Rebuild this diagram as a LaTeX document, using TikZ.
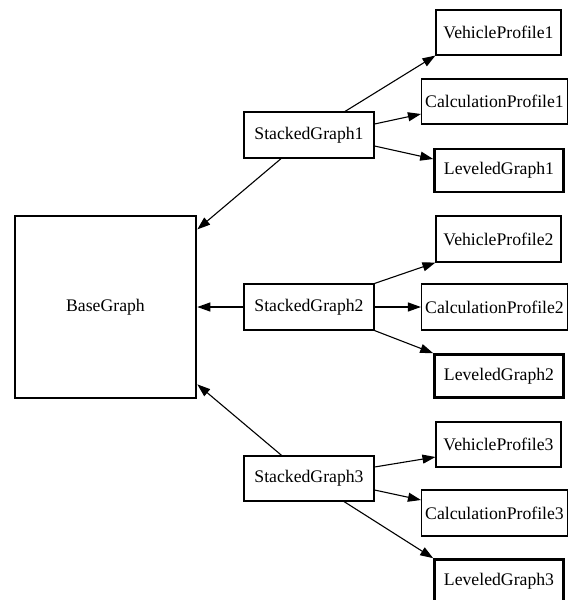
\documentclass[tikz,border=0pt]{standalone}
\usepackage{fontspec}
\setmainfont{Liberation Serif}
\usetikzlibrary{arrows.meta,calc}
\begin{document}
\begin{tikzpicture}[x=1pt,y=-1pt,
  box/.style={draw, line width=1.1pt, inner sep=0pt, font=\fontsize{17.7}{20}\selectfont},
  boldbox/.style={box, line width=2.6pt},
  arr/.style={line width=1.1pt, -{Triangle[length=13pt,width=9pt]}}]
\useasboundingbox (0,0) rectangle (568,600);

% root
\node[boldbox, minimum width=181pt, minimum height=182pt] (bg) at (105.5,307) {BaseGraph};

% stacked graphs
\node[box, minimum width=130pt, minimum height=46pt] (sg1) at (309,135) {StackedGraph1};
\node[box, minimum width=130pt, minimum height=46pt] (sg2) at (309,307) {StackedGraph2};
\node[box, minimum width=130pt, minimum height=45pt] (sg3) at (309,478.5) {StackedGraph3};

% profiles and leveled graphs
\node[box, minimum width=125pt, minimum height=45pt] (vp1) at (498.5,32.5) {VehicleProfile1};
\node[box, minimum width=146pt, minimum height=45pt] (cp1) at (494.5,101.5) {CalculationProfile1};
\node[boldbox, minimum width=129pt, minimum height=43pt] (lg1) at (499,170.5) {LeveledGraph1};

\node[box, minimum width=125pt, minimum height=46pt] (vp2) at (498.5,239) {VehicleProfile2};
\node[box, minimum width=146pt, minimum height=46pt] (cp2) at (494.5,307) {CalculationProfile2};
\node[boldbox, minimum width=129pt, minimum height=43pt] (lg2) at (499,376) {LeveledGraph2};

\node[box, minimum width=125pt, minimum height=45pt] (vp3) at (498.5,444.5) {VehicleProfile3};
\node[box, minimum width=146pt, minimum height=46pt] (cp3) at (494.5,513) {CalculationProfile3};
\node[boldbox, minimum width=129pt, minimum height=43pt] (lg3) at (499,581) {LeveledGraph3};

% connectors into the root
\draw[arr] (sg1) -- (bg);
\draw[arr] (sg2) -- (bg);
\draw[arr] (sg3) -- (bg);

% connectors of StackedGraph1
\draw[arr] ($(sg1.north)+(36,0)$) -- (vp1.south west);
\draw[arr] ($(sg1.east)+(0,-11)$) -- ($(cp1.west)+(0,12.5)$);
\draw[arr] ($(sg1.east)+(0,11)$) -- ($(lg1.west)+(0,-11.5)$);

% connectors of StackedGraph2
\draw[arr] (sg2.north east) -- (vp2.south west);
\draw[arr] (sg2) -- (cp2);
\draw[arr] (sg2.south east) -- (lg2.north west);

% connectors of StackedGraph3
\draw[arr] ($(sg3.east)+(0,-11.5)$) -- ($(vp3.west)+(0,12.5)$);
\draw[arr] ($(sg3.east)+(0,11.5)$) -- ($(cp3.west)+(0,-13)$);
\draw[arr] ($(sg3.south)+(35,0)$) -- (lg3.north west);
\end{tikzpicture}
\end{document}
